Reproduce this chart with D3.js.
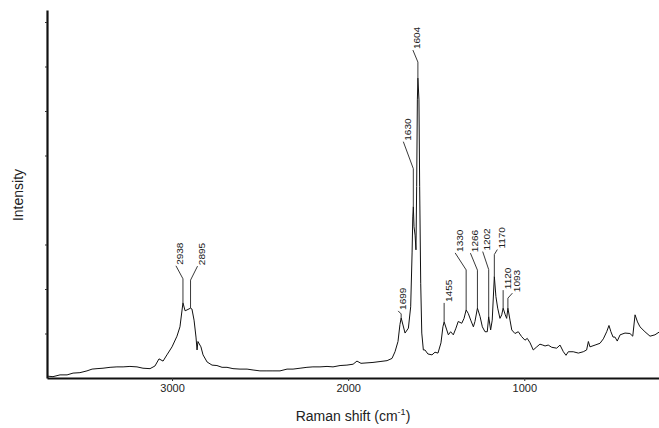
<!DOCTYPE html>
<html>
<head>
<meta charset="utf-8">
<script src="https://cdn.jsdelivr.net/npm/d3@7"></script>
<style>
    body { margin: 0; background: #fff; }
    text { font-family: "Liberation Sans", Arial, sans-serif; }
</style>
</head>
<body>
<svg id="chart" width="659" height="428"></svg>
<script>
// spectrum (Raman shift in cm-1, intensity in arb. units)
var wavenumber = [3704, 3676, 3636, 3596, 3562, 3523, 3483, 3454, 3426, 3392, 3352, 3313, 3278, 3239, 3199,
    3165, 3125, 3097, 3074, 3051, 3029, 3000, 2972, 2955, 2938, 2926, 2915, 2895, 2887, 2875, 2864, 2858,
    2853, 2836, 2824, 2801, 2773, 2745, 2716, 2688, 2654, 2614, 2574, 2540, 2501, 2461, 2427, 2387, 2347,
    2313, 2273, 2234, 2200, 2160, 2120, 2086, 2046, 2007, 1972, 1950, 1927, 1893, 1859, 1819, 1779, 1751,
    1734, 1717, 1706, 1699, 1677, 1658, 1645, 1637, 1633, 1630, 1626, 1620, 1615, 1611, 1607, 1604, 1598,
    1594, 1588, 1582, 1573, 1564, 1547, 1524, 1507, 1490, 1473, 1462, 1455, 1440, 1431, 1418, 1403, 1388,
    1375, 1355, 1342, 1330, 1318, 1304, 1289, 1280, 1266, 1251, 1238, 1223, 1210, 1202, 1191, 1182, 1170,
    1161, 1151, 1138, 1128, 1120, 1108, 1100, 1093, 1081, 1071, 1053, 1034, 1015, 996, 983, 967, 949, 929,
    911, 895, 882, 864, 844, 816, 797, 778, 763, 750, 722, 693, 665, 646, 636, 627, 598, 570, 551, 532,
    519, 508, 496, 485, 472, 456, 428, 400, 384, 371, 357, 343, 315, 286, 258, 235];
var intensity = [0.04, 0.03, 0.07, 0.07, 0.11, 0.12, 0.16, 0.20, 0.21, 0.22, 0.24, 0.25, 0.25, 0.26, 0.25,
    0.22, 0.21, 0.27, 0.43, 0.38, 0.52, 0.70, 0.94, 1.15, 1.69, 1.51, 1.53, 1.57, 1.55, 1.30, 0.92, 0.63,
    0.82, 0.70, 0.52, 0.36, 0.29, 0.28, 0.24, 0.24, 0.21, 0.20, 0.20, 0.18, 0.16, 0.16, 0.16, 0.16, 0.20,
    0.20, 0.22, 0.24, 0.25, 0.25, 0.26, 0.25, 0.28, 0.29, 0.31, 0.38, 0.33, 0.34, 0.35, 0.37, 0.39, 0.44,
    0.59, 0.82, 1.20, 1.35, 1.01, 1.12, 1.60, 2.81, 3.62, 3.85, 3.40, 3.21, 2.88, 4.30, 6.25, 6.74, 6.25,
    4.30, 2.13, 1.01, 0.63, 0.63, 0.54, 0.52, 0.58, 0.56, 0.79, 1.15, 1.26, 1.08, 0.97, 1.04, 0.97, 1.12,
    1.27, 1.23, 1.34, 1.53, 1.45, 1.30, 1.15, 1.27, 1.57, 1.38, 1.15, 1.04, 1.04, 1.38, 1.08, 1.30, 2.28,
    1.83, 1.57, 1.34, 1.42, 1.57, 1.42, 1.34, 1.57, 1.30, 1.08, 1.00, 1.04, 0.93, 0.85, 0.89, 0.79, 0.63, 0.70,
    0.76, 0.74, 0.72, 0.74, 0.69, 0.67, 0.74, 0.59, 0.51, 0.59, 0.59, 0.56, 0.59, 0.63, 0.82, 0.70, 0.74, 0.78, 0.88, 1.04,
    1.18, 1.04, 0.92, 0.92, 0.83, 0.97, 1.01, 1.00, 0.94, 1.42, 1.26, 1.15, 1.04, 0.94, 0.97, 1.03];

var peakLabels = [2938, 2895, 1699, 1630, 1604, 1455, 1330, 1266, 1202, 1170, 1120, 1093];
var xTicks = [3000, 2000, 1000];
var yTicks = [1, 2, 3, 5, 6, 7, 8];

// leader layout for each peak label: [dx of label foot, vertical leg, rise of slanted leg] in px
var leaderLayout = [[-7, 24, 13], [7, 28, 14], [-3, 4, 3], [-10, 38, 27], [-5, 16, 12], [0, 19, 0],
    [-11, 40, 17], [-7, 38, 17], [-6, 47, 18], [3, 22, 5], [0, 18, 0], [4.5, 10, 5]];

var svg = d3.select("#chart");

var x = d3.scaleLinear().domain([3710, 235]).range([47, 659]);
var y = d3.scaleLinear().domain([0, 8.27]).range([378, 10]);

// spectrum
var line = d3.line()
    .x(function (i) { return x(wavenumber[i]); })
    .y(function (i) { return y(intensity[i]); });

svg.append("path")
    .datum(d3.range(wavenumber.length))
    .attr("d", line)
    .attr("fill", "none")
    .attr("stroke", "#111")
    .attr("stroke-width", 1)
    .attr("stroke-linejoin", "round");

// axes
var xAxis = svg.append("g")
    .attr("transform", "translate(0,378)")
    .call(d3.axisBottom(x).tickValues(xTicks).tickSize(3).tickSizeOuter(0).tickPadding(3)
        .tickFormat(d3.format("d")));
xAxis.select(".domain").attr("stroke", "#111").attr("stroke-width", 2.2);
xAxis.selectAll(".tick line").attr("stroke", "#333");
xAxis.selectAll(".tick text")
    .attr("font-family", "Liberation Sans, Arial, sans-serif")
    .attr("font-size", 11)
    .attr("fill", "#222");

var yAxis = svg.append("g")
    .attr("transform", "translate(47,0)")
    .call(d3.axisLeft(y).tickValues(yTicks).tickSize(2).tickSizeOuter(0).tickFormat(""));
yAxis.select(".domain").attr("stroke", "#111").attr("stroke-width", 2.2);
yAxis.selectAll(".tick line").attr("stroke", "#333");

// axis titles
svg.append("text")
    .attr("transform", "translate(18,195) rotate(-90)")
    .attr("text-anchor", "middle")
    .attr("dy", "0.35em")
    .attr("font-size", 14)
    .attr("fill", "#222")
    .text("Intensity");

var xTitle = svg.append("text")
    .attr("x", 353)
    .attr("y", 421)
    .attr("text-anchor", "middle")
    .attr("font-size", 14)
    .attr("fill", "#222");
xTitle.append("tspan").text("Raman shift (cm");
xTitle.append("tspan").attr("dy", -6).attr("font-size", 9).text("-1");
xTitle.append("tspan").attr("dy", 6).text(")");

// peak labels with leader lines
var labels = svg.append("g");
peakLabels.forEach(function (wn, k) {
    var idx = wavenumber.indexOf(wn);
    var tipX = x(wn), tipY = y(intensity[idx]);
    var lay = leaderLayout[k];
    var kneeY = tipY - lay[1];
    var footX = tipX + lay[0], footY = kneeY - lay[2];

    labels.append("path")
        .attr("d", d3.line()([[footX, footY], [tipX, kneeY], [tipX, tipY]]))
        .attr("fill", "none")
        .attr("stroke", "#222")
        .attr("stroke-width", 0.9);

    // labels in the source are a little condensed across the glyph height
    labels.append("text")
        .attr("transform", "translate(" + (footX + 4.5) + "," + (footY - 1) + ") rotate(-90) scale(1,0.85)")
        .attr("dy", "0.35em")
        .attr("font-size", 10)
        .attr("fill", "#222")
        .text(wn);
});
</script>
</body>
</html>
